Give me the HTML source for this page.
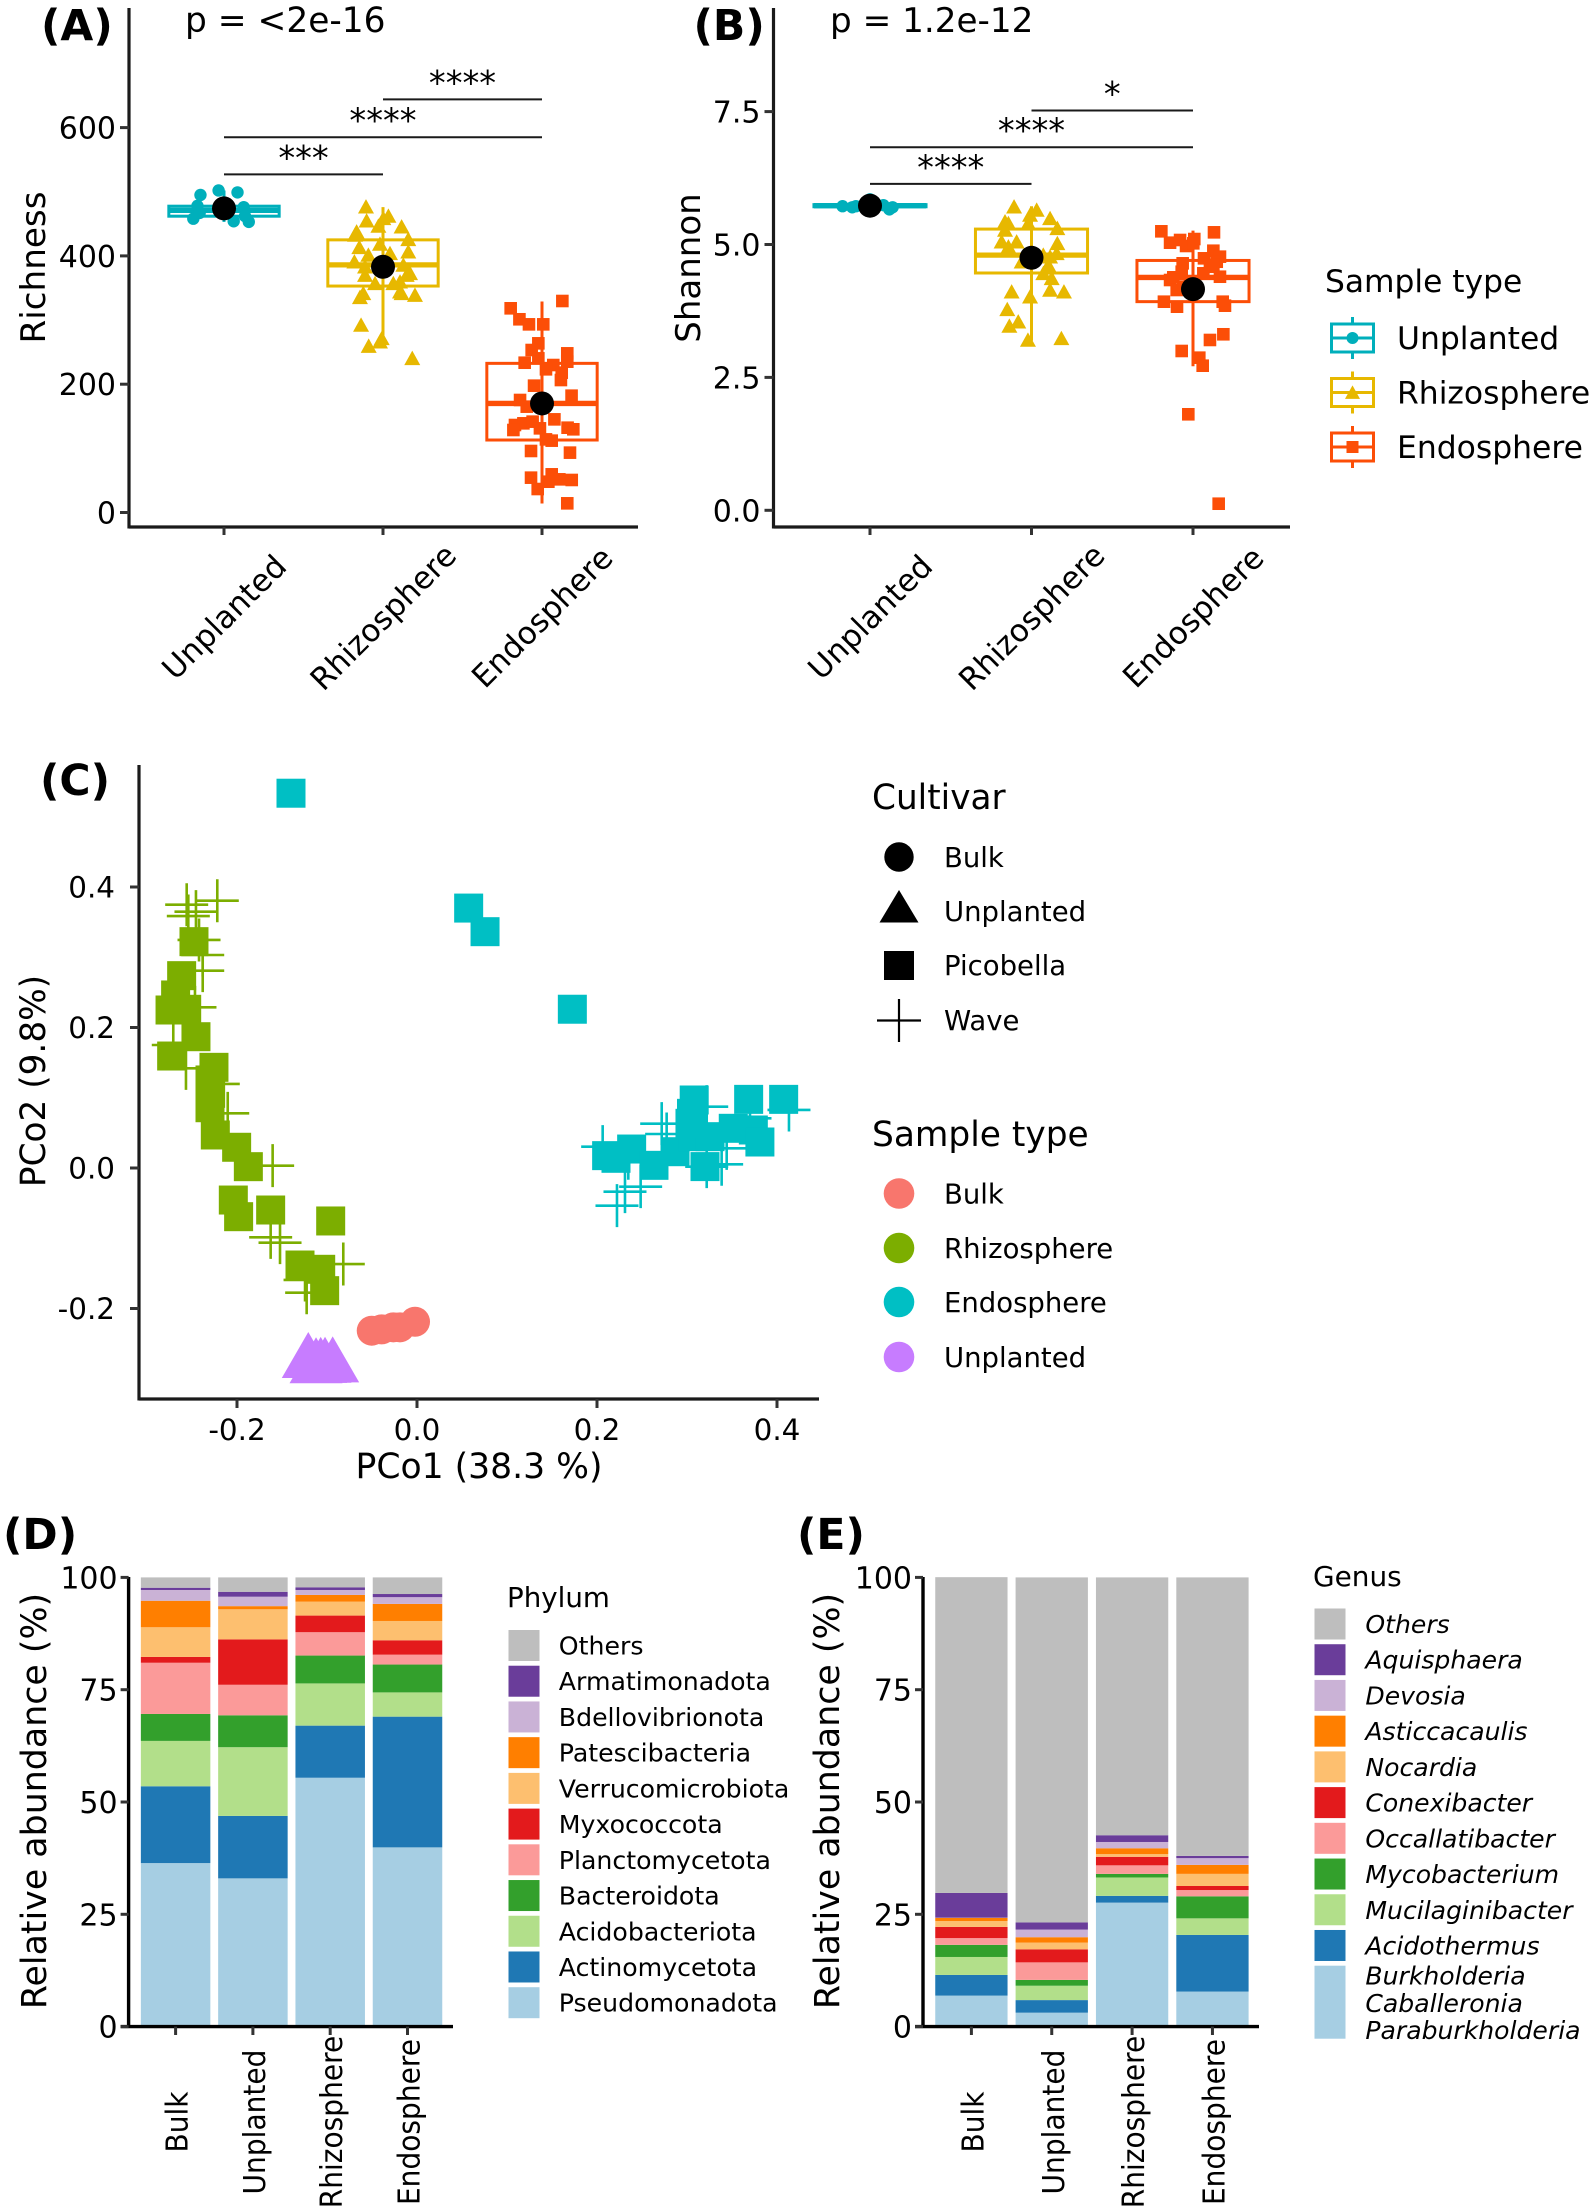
<!DOCTYPE html>
<html lang="en">
<head>
<meta charset="utf-8">
<title>Microbiome diversity figure</title>
<style>
html,body{margin:0;padding:0;background:#fff;}
svg{display:block;font-family:"DejaVu Sans","Liberation Sans",sans-serif;}
text{fill:#000;}
</style>
</head>
<body>
<svg id="figure" xmlns="http://www.w3.org/2000/svg" width="1595" height="2212" viewBox="0 0 1595 2212">
  <rect x="0" y="0" width="1595" height="2212" fill="#fff"/>

  <g id="panelA">
    <text x="41" y="40" font-size="42.5" font-weight="bold">(A)</text>
    <text x="185" y="32" font-size="34.4">p = &lt;2e-16</text>
    <text transform="translate(45,267.5) rotate(-90)" text-anchor="middle" font-size="34.2">Richness</text>
  </g>

  <g id="panelB">
    <text x="693.5" y="40" font-size="42.5" font-weight="bold">(B)</text>
    <text x="830" y="32" font-size="34.2">p = 1.2e-12</text>
    <text transform="translate(700,268) rotate(-90)" text-anchor="middle" font-size="34">Shannon</text>
  </g>

  <g id="boxLegend">
    <text x="1325" y="292" font-size="31.3">Sample type</text>
  </g>

  <g id="panelC">
    <text x="40" y="795" font-size="42.5" font-weight="bold">(C)</text>
    <text transform="translate(45,1081) rotate(-90)" text-anchor="middle" font-size="34.3">PCo2 (9.8%)</text>
    <text x="479" y="1478" text-anchor="middle" font-size="34.6">PCo1 (38.3 %)</text>
  </g>

  <g id="pcoaLegend">
    <text x="872" y="809" font-size="34.3">Cultivar</text>
    <circle cx="899" cy="857" r="14.7" fill="#000"/>
    <text x="944" y="867" font-size="27.5">Bulk</text>
    <polygon points="899,890 918.5,922.5 879.5,922.5" fill="#000"/>
    <text x="944" y="921" font-size="27.5">Unplanted</text>
    <rect x="884" y="951" width="30" height="29" fill="#000"/>
    <text x="944" y="975" font-size="27.5">Picobella</text>
    <path d="M877 1020.5H921M899 999V1042" stroke="#000" stroke-width="2.2" fill="none"/>
    <text x="944" y="1030" font-size="27.5">Wave</text>

    <text x="872" y="1146" font-size="34.4">Sample type</text>
    <circle cx="899" cy="1193.5" r="15.3" fill="#F8766D"/>
    <text x="944" y="1203.5" font-size="27.5">Bulk</text>
    <circle cx="899" cy="1248" r="15.3" fill="#7CAE00"/>
    <text x="944" y="1258" font-size="27.5">Rhizosphere</text>
    <circle cx="899" cy="1302" r="15.3" fill="#00BFC4"/>
    <text x="944" y="1312" font-size="27.5">Endosphere</text>
    <circle cx="899" cy="1357" r="15.3" fill="#C77CFF"/>
    <text x="944" y="1367" font-size="27.5">Unplanted</text>
  </g>

  <g id="panelD">
    <text x="3" y="1549" font-size="42.5" font-weight="bold">(D)</text>
    <text transform="translate(46,1801) rotate(-90)" text-anchor="middle" font-size="34.8">Relative abundance (%)</text>
    <text x="507" y="1607" font-size="27.7">Phylum</text>
  </g>

  <g id="panelE">
    <text x="797" y="1549" font-size="42.5" font-weight="bold">(E)</text>
    <text transform="translate(839,1801) rotate(-90)" text-anchor="middle" font-size="34.8">Relative abundance (%)</text>
    <text x="1313" y="1586" font-size="27.9">Genus</text>
  </g>
</svg>

<script>
/* ---------- Box plot categories ---------- */
const boxCategories = ['Unplanted', 'Rhizosphere', 'Endosphere'];

/* ---------- Panel A: richness ---------- */
const richnessTicks = [0, 200, 400, 600];
const richnessQ1 = [461.9, 353, 113];
const richnessMedian = [471, 386, 170];
const richnessQ3 = [477.5, 425, 232.5];
const richnessLow = [453, 260, 14];
const richnessHigh = [502, 476, 329];
const richnessMean = [474, 383, 170];
const richnessBracketFrom = [0, 0, 1];
const richnessBracketTo = [1, 2, 2];
const richnessBracketLevel = [527, 585, 644];
const richnessBracketStars = ['***', '****', '****'];
const richnessUnplantedJitter = [-.148, -.034, .085, -.167, .124, -.193, -.153, .061, .156, .132];
const richnessUnplantedValues = [495, 502, 499, 478, 476, 458, 467, 454, 453, 462];
const richnessRhizoJitter = [-.107, -.103, .002, .034, -.029, .117, -.166, -.176, .159, -.019, -.149, .159, -.092, .044, -.18, -.113, -.113, .128, .149, .107, -.05, .065, .107, -.124, -.145, .201, -.138, -.008, -.019, -.09, .184, .117, .17];
const richnessRhizoValues = [476.7, 454.9, 458.6, 462.2, 446.6, 445.5, 437.7, 432.6, 425.9, 418.6, 413.4, 406.5, 401.4, 404, 391, 383.2, 370.2, 385.8, 370.2, 359.8, 357.3, 357.3, 344.2, 341.7, 335.5, 339, 292.3, 271.5, 266.3, 259.5, 240.4, 341.7, 372.9];
const richnessEndoJitter = [-.197, .128, -.142, -.082, .008, -.023, -.065, .159, .159, -.109, -.023, .071, .025, .124, .119, -.05, .186, -.138, -.096, -.17, -.117, -.059, -.013, .078, .161, .197, .061, .025, -.069, .176, -.069, .061, .109, .187, .04, -.027, .159, -.18];
const richnessEndoValues = [318.3, 329.7, 301.2, 293.3, 293.3, 263.7, 253.3, 248.1, 235.1, 233.5, 240.3, 229.9, 223.2, 218, 206.5, 197.7, 182.1, 175.4, 165, 136.4, 139, 141.6, 131.2, 145.2, 132.2, 129.7, 112, 114, 95.9, 93.3, 54.3, 59.5, 51.7, 50.7, 48, 36.6, 14.3, 128.6];

/* ---------- Panel B: Shannon ---------- */
const shannonTicks = [0, 2.5, 5, 7.5];
const shannonTickLabels = ['0.0', '2.5', '5.0', '7.5'];
const shannonQ1 = [5.71, 4.464, 3.925];
const shannonMedian = [5.73, 4.80, 4.38];
const shannonQ3 = [5.75, 5.29, 4.70];
const shannonLow = [5.62, 3.19, 2.71];
const shannonHigh = [5.85, 5.72, 5.26];
const shannonMean = [5.73, 4.75, 4.16];
const shannonBracketFrom = [0, 0, 1];
const shannonBracketTo = [1, 2, 2];
const shannonBracketLevel = [6.14, 6.83, 7.52];
const shannonBracketStars = ['****', '****', '*'];
const shannonUnplantedJitter = [-.17, -.11, .083, .14, 0, -.087, .12];
const shannonUnplantedValues = [5.72, 5.7, 5.74, 5.7, 5.85, 5.72, 5.66];
const shannonRhizoJitter = [-.108, -.164, -.143, -.009, .032, -.02, .115, .16, -.164, -.185, -.092, -.143, .16, .156, -.061, .104, .073, .125, -.123, -.009, .115, .201, -.15, -.082, -.137, -.022, .185, .115, .073];
const shannonRhizoValues = [5.711, 5.43, 5.399, 5.555, 5.649, 5.399, 5.493, 5.305, 5.273, 5.053, 5.053, 4.959, 5.022, 4.834, 4.676, 4.614, 4.458, 4.364, 4.112, 4.018, 4.144, 4.112, 3.781, 3.548, 3.467, 3.204, 3.235, 4.771, 4.802];
const shannonEndoJitter = [-.196, .13, -.142, -.08, -.043, .008, .002, .126, .068, .167, -.064, .167, -.07, -.142, .105, -.101, -.019, -.18, -.099, .184, .198, .188, .105, -.07, .039, .06, -.029, .159, .064, .147, -.122, -.06, .126];
const shannonEndoValues = [5.248, 5.229, 5.034, 5.085, 4.972, 5.103, 5.022, 4.883, 4.74, 4.771, 4.646, 4.394, 4.488, 4.332, 4.582, 4.144, 4.27, 3.924, 3.83, 3.924, 3.849, 3.311, 3.204, 2.997, 2.871, 2.72, 1.806, .124, 4.458, 4.676, 4.383, 4.206, 4.614];

/* ---------- Panel C: PCoA ---------- */
const pco1Ticks = [-0.2, 0, 0.2, 0.4];
const pco1TickLabels = ['-0.2', '0.0', '0.2', '0.4'];
const pco2Ticks = [-0.2, 0, 0.2, 0.4];
const pco2TickLabels = ['-0.2', '0.0', '0.2', '0.4'];
const endoWavePco1 = [.2063, .2719, .2222, .2311, .2485, .3219, .4133, .2348, .3385, .3441, .2774, .3219, .37];
const endoWavePco2 = [.0304, .0631, -.0536, -.0337, -.0266, .0873, .0826, .0138, .0053, .028, .0484, .0019, .0707];
const endoPicobellaPco1 = [-.14, .0574, .0756, .1726, .308, .305, .3685, .4074, .2385, .2107, .2211, .2633, .2867, .307, .3256, .3514, .3737, .381, .32, .3033];
const endoPicobellaPco2 = [.5335, .37, .3364, .226, .0968, .0778, .0977, .0977, .027, .0176, .0138, .0038, .0232, .0446, .0446, .0565, .0541, .037, .002, .0636];
const rhizoWavePco1 = [-.2219, -.2559, -.2456, -.2541, -.2422, -.2381, -.2381, -.2467, -.2708, -.2567, -.2208, -.2103, -.1604, -.1626, -.1522, -.0819, -.1226, -.1244];
const rhizoWavePco2 = [.3805, .3748, .3649, .3587, .3246, .3032, .2809, .2287, .1751, .1419, .1196, .0778, .0033, -.0987, -.1063, -.1367, -.1775, -.1594];
const rhizoPicobellaPco1 = [-.2478, -.2615, -.2682, -.2744, -.2559, -.2456, -.2726, -.2256, -.23, -.2293, -.23, -.2241, -.2004, -.1874, -.2041, -.1982, -.1626, -.0959, -.13, -.107, -.1026];
const rhizoPicobellaPco2 = [.3222, .2738, .2463, .2249, .2259, .1869, .1594, .1433, .1253, .1063, .0858, .047, .0295, .0019, -.0456, -.0693, -.0598, -.0754, -.1381, -.1442, -.1746];
const bulkPco1 = [-.0503, -.0393, -.0263, -.0189, -.0022];
const bulkPco2 = [-.2316, -.2297, -.2268, -.2268, -.2188];
const unplantedPco1 = [-.1208, -.1122, -.107, -.1022, -.0937];
const unplantedPco2 = [-.2776, -.2851, -.2845, -.2843, -.2838];

/* ---------- Panels D and E: stacked bars ---------- */
const stackCategories = ['Bulk', 'Unplanted', 'Rhizosphere', 'Endosphere'];
const stackTicks = [0, 25, 50, 75, 100];
const phylumNames = ['Pseudomonadota', 'Actinomycetota', 'Acidobacteriota', 'Bacteroidota', 'Planctomycetota', 'Myxococcota', 'Verrucomicrobiota', 'Patescibacteria', 'Bdellovibrionota', 'Armatimonadota', 'Others'];
const phylumBulk = [36.4, 17.1, 10.1, 6, 11.4, 1.3, 6.6, 5.9, 2.4, .5, 2.3];
const phylumUnplanted = [33, 13.9, 15.3, 7.1, 6.8, 10.1, 6.7, .7, 2.1, 1.1, 3.2];
const phylumRhizosphere = [55.4, 11.6, 9.4, 6.2, 5.2, 3.7, 3.1, 1.5, 1.1, .6, 2.2];
const phylumEndosphere = [39.9, 29.1, 5.4, 6.2, 2.2, 3.2, 4.3, 3.8, 1.5, .7, 3.7];
const genusNames = ['Burkholderia Caballeronia Paraburkholderia', 'Acidothermus', 'Mucilaginibacter', 'Mycobacterium', 'Occallatibacter', 'Conexibacter', 'Nocardia', 'Asticcacaulis', 'Devosia', 'Aquisphaera', 'Others'];
const genusBulk = [6.9, 4.6, 4, 2.7, 1.5, 2.5, 1.3, .7, .05, 5.5, 70.3];
const genusUnplanted = [3.1, 2.8, 3.2, 1.3, 3.9, 2.9, 1.5, 1.2, 1.7, 1.6, 76.8];
const genusRhizosphere = [27.6, 1.5, 4.1, .8, 1.9, 1.9, .6, 1.3, 1.4, 1.5, 57.4];
const genusEndosphere = [7.8, 12.6, 3.7, 4.9, 1.4, .9, 2.7, 2, 1.5, .5, 62];

const NS = 'http://www.w3.org/2000/svg';
const INK = '#1a1a1a';
const boxColors = ['#00AFBB', '#E7B800', '#FC4E07'];
const stackColors = ['#A6CEE3', '#1F78B4', '#B2DF8A', '#33A02C', '#FB9A99', '#E31A1C', '#FDBF6F', '#FF7F00', '#CAB2D6', '#6A3D9A', '#BEBEBE'];

function mk(tag, attrs, parent, name) {
  const el = document.createElementNS(NS, tag);
  for (const k in attrs) el.setAttribute(k, attrs[k]);
  
  
  parent.appendChild(el);
  return el;
}
function label(str, attrs, parent, name) {
  const el = mk('text', attrs, parent, name);
  el.textContent = str;
  return el;
}
function line(x1, y1, x2, y2, stroke, w, parent, name) {
  return mk('line', {x1: x1, y1: y1, x2: x2, y2: y2, stroke: stroke, 'stroke-width': w}, parent, name);
}
function slug(s) { return String(s).toLowerCase().replace(/[^a-z0-9]+/g, '-'); }

function marker(shape, cx, cy, s, color, parent, name) {
  if (shape === 'circle') return mk('circle', {cx: cx, cy: cy, r: s, fill: color}, parent, name);
  if (shape === 'square') return mk('rect', {x: cx - s, y: cy - s, width: 2 * s, height: 2 * s, fill: color}, parent, name);
  if (shape === 'triangle') {
    const pts = (cx) + ',' + (cy - s * .95) + ' ' + (cx + s) + ',' + (cy + s * .85) + ' ' + (cx - s) + ',' + (cy + s * .85);
    return mk('polygon', {points: pts, fill: color}, parent, name);
  }
  return mk('path', {d: 'M' + (cx - s) + ' ' + cy + 'H' + (cx + s) + 'M' + cx + ' ' + (cy - s) + 'V' + (cy + s), stroke: color, 'stroke-width': 2.6, fill: 'none'}, parent, name);
}

/* ---------- Box panels ---------- */
function boxPanel(cfg) {
  const g = document.getElementById(cfg.id);
  const xOf = i => cfg.x0 + i * cfg.step;
  const y = cfg.y;
  cfg.q1.forEach((_, i) => {
    const c = boxColors[i];
    const cx = xOf(i);
    const hw = 0.347 * cfg.step;
    const nm = slug(boxCategories[i]);
    line(cx, y(cfg.low[i]), cx, y(cfg.high[i]), c, 3, g, cfg.prefix + '-whisker-' + nm);
    mk('rect', {x: cx - hw, y: y(cfg.q3[i]), width: 2 * hw, height: y(cfg.q1[i]) - y(cfg.q3[i]), fill: 'none', stroke: c, 'stroke-width': 3}, g, cfg.prefix + '-box-' + nm);
    line(cx - hw, y(cfg.median[i]), cx + hw, y(cfg.median[i]), c, 5.3, g, cfg.prefix + '-median-' + nm);
  });
  const shapes = ['circle', 'triangle', 'square'];
  const sizes = [6.2, 8, 6.3];
  cfg.jitter.forEach((arr, i) => {
    arr.forEach((j, k) => {
      marker(shapes[i], xOf(i) + j * cfg.step, y(cfg.values[i][k]), sizes[i], boxColors[i], g, cfg.prefix + '-point-' + slug(boxCategories[i]));
    });
  });
  cfg.mean.forEach((m, i) => {
    mk('circle', {cx: xOf(i), cy: y(m), r: 12, fill: '#000'}, g, cfg.prefix + '-mean-' + slug(boxCategories[i]));
  });
  cfg.from.forEach((f, i) => {
    const by = y(cfg.level[i]);
    line(xOf(f), by, xOf(cfg.to[i]), by, '#1a1a1a', 2, g, cfg.prefix + '-bracket');
    label(cfg.stars[i], {x: (xOf(f) + xOf(cfg.to[i])) / 2, y: by - 5, 'text-anchor': 'middle', 'font-size': 33.6}, g, cfg.prefix + '-significance');
  });
  /* axes */
  line(cfg.axisX, 8, cfg.axisX, 528.5, INK, 3.2, g, cfg.prefix + '-y-axis');
  line(cfg.axisX, 527, cfg.axisEnd, 527, INK, 3.2, g, cfg.prefix + '-x-axis');
  cfg.ticks.forEach((t, i) => {
    line(cfg.axisX - 9, y(t), cfg.axisX, y(t), '#333', 3, g, cfg.prefix + '-y-tick');
    label(cfg.tickLabels[i], {x: cfg.axisX - 13, y: y(t) + 11, 'text-anchor': 'end', 'font-size': 30}, g, cfg.prefix + '-y-tick-label');
  });
  boxCategories.forEach((c, i) => {
    line(xOf(i), 527, xOf(i), 535, '#333', 3, g, cfg.prefix + '-x-tick');
    label(c, {transform: 'translate(' + xOf(i) + ',617) rotate(-45)', y: 11, 'text-anchor': 'middle', 'font-size': 31}, g, cfg.prefix + '-x-tick-label');
  });
}
boxPanel({
  id: 'panelA', prefix: 'richness', x0: 224, step: 159, axisX: 129, axisEnd: 638,
  y: v => 512.5 - v * 0.6415,
  q1: richnessQ1, median: richnessMedian, q3: richnessQ3, low: richnessLow, high: richnessHigh, mean: richnessMean,
  jitter: [richnessUnplantedJitter, richnessRhizoJitter, richnessEndoJitter],
  values: [richnessUnplantedValues, richnessRhizoValues, richnessEndoValues],
  from: richnessBracketFrom, to: richnessBracketTo, level: richnessBracketLevel, stars: richnessBracketStars,
  ticks: richnessTicks, tickLabels: richnessTicks
});
boxPanel({
  id: 'panelB', prefix: 'shannon', x0: 870, step: 161.5, axisX: 773.5, axisEnd: 1290,
  y: v => 510.3 - v * 53.16,
  q1: shannonQ1, median: shannonMedian, q3: shannonQ3, low: shannonLow, high: shannonHigh, mean: shannonMean,
  jitter: [shannonUnplantedJitter, shannonRhizoJitter, shannonEndoJitter],
  values: [shannonUnplantedValues, shannonRhizoValues, shannonEndoValues],
  from: shannonBracketFrom, to: shannonBracketTo, level: shannonBracketLevel, stars: shannonBracketStars,
  ticks: shannonTicks, tickLabels: shannonTickLabels
});

/* box legend */
(function () {
  const g = document.getElementById('boxLegend');
  const shapes = ['circle', 'triangle', 'square'];
  const sizes = [6, 7.5, 6];
  boxCategories.forEach((c, i) => {
    const cy = 338 + i * 54.5;
    const nm = slug(c);
    line(1352.5, cy - 21, 1352.5, cy + 21, boxColors[i], 3, g, 'box-legend-whisker-' + nm);
    mk('rect', {x: 1331.5, y: cy - 14, width: 42, height: 28, fill: '#fff', stroke: boxColors[i], 'stroke-width': 3}, g, 'box-legend-key-' + nm);
    line(1331.5, cy, 1373.5, cy, boxColors[i], 3, g, 'box-legend-median-' + nm);
    marker(shapes[i], 1352.5, cy, sizes[i], boxColors[i], g, 'box-legend-marker-' + nm);
    label(c, {x: 1397, y: cy + 11, 'font-size': 31.4}, g, 'box-legend-label-' + nm);
  });
})();

/* ---------- PCoA ---------- */
(function () {
  const g = document.getElementById('panelC');
  const px = v => 417 + v * 900;
  const py = v => 1168 - v * 702.5;
  const GREEN = '#7CAE00', TEAL = '#00BFC4', RED = '#F8766D', VIOLET = '#C77CFF';
  const plus = (xs, ys, color, nm) => xs.forEach((v, i) => {
    marker('plus', px(v), py(ys[i]), 21.5, color, g, nm);
  });
  const squares = (xs, ys, color, nm) => xs.forEach((v, i) => {
    marker('square', px(v), py(ys[i]), 14.5, color, g, nm);
  });
  plus(rhizoWavePco1, rhizoWavePco2, GREEN, 'rhizosphere-wave-point');
  plus(endoWavePco1, endoWavePco2, TEAL, 'endosphere-wave-point');
  squares(rhizoPicobellaPco1, rhizoPicobellaPco2, GREEN, 'rhizosphere-picobella-point');
  squares(endoPicobellaPco1, endoPicobellaPco2, TEAL, 'endosphere-picobella-point');
  bulkPco1.forEach((v, i) => {
    mk('circle', {cx: px(v), cy: py(bulkPco2[i]), r: 15, fill: RED}, g, 'bulk-point');
  });
  unplantedPco1.forEach((v, i) => {
    const cx = px(v), cy = py(unplantedPco2[i]);
    mk('polygon', {points: cx + ',' + (cy - 31) + ' ' + (cx + 26.5) + ',' + (cy + 15) + ' ' + (cx - 26.5) + ',' + (cy + 15), fill: VIOLET}, g, 'unplanted-point');
  });
  line(139, 765, 139, 1400.5, INK, 3.2, g, 'pcoa-y-axis');
  line(139, 1399, 819, 1399, INK, 3.2, g, 'pcoa-x-axis');
  pco2Ticks.forEach((t, i) => {
    line(130, py(t), 139, py(t), '#333', 3, g, 'pcoa-y-tick');
    label(pco2TickLabels[i], {x: 115, y: py(t) + 10.5, 'text-anchor': 'end', 'font-size': 29.4}, g, 'pcoa-y-tick-label');
  });
  pco1Ticks.forEach((t, i) => {
    line(px(t), 1399, px(t), 1408, '#333', 3, g, 'pcoa-x-tick');
    label(pco1TickLabels[i], {x: px(t), y: 1440, 'text-anchor': 'middle', 'font-size': 29.4}, g, 'pcoa-x-tick-label');
  });
})();

/* ---------- Stacked bars ---------- */
function stackPanel(cfg) {
  const g = document.getElementById(cfg.id);
  const y = v => 2026.6 - v * 4.492;
  const xOf = i => cfg.x0 + i * cfg.step;
  cfg.samples.forEach((vals, i) => {
    let acc = 0;
    vals.forEach((v, k) => {
      mk('rect', {x: xOf(i) - cfg.barW / 2, y: y(acc + v), width: cfg.barW, height: y(acc) - y(acc + v), fill: stackColors[k]}, g, cfg.prefix + '-bar-' + slug(stackCategories[i]) + '-' + slug(cfg.names[k]));
      acc += v;
    });
  });
  line(cfg.axisX, 1577, cfg.axisX, 2028, '#000', 3.4, g, cfg.prefix + '-y-axis');
  line(cfg.axisX - 8, 2026.6, cfg.axisEnd, 2026.6, '#000', 3.4, g, cfg.prefix + '-x-axis');
  stackTicks.forEach(t => {
    line(cfg.axisX - 8, y(t), cfg.axisX, y(t), '#333', 3, g, cfg.prefix + '-y-tick');
    label(t, {x: cfg.axisX - 11, y: y(t) + 11, 'text-anchor': 'end', 'font-size': 30}, g, cfg.prefix + '-y-tick-label');
  });
  stackCategories.forEach((c, i) => {
    line(xOf(i), 2026.6, xOf(i), 2035, '#333', 3, g, cfg.prefix + '-x-tick');
    label(c, {transform: 'translate(' + (xOf(i) + 12) + ',2122) rotate(-90) scale(.92,1)', 'text-anchor': 'middle', 'font-size': 30.5}, g, cfg.prefix + '-x-tick-label');
  });
  /* legend, drawn top to bottom from the last series */
  for (let k = cfg.names.length - 1; k >= 0; k--) {
    const row = cfg.names.length - 1 - k;
    const top = cfg.legendTop + row * 35.72;
    const nm = slug(cfg.names[k]);
    const isMulti = cfg.names[k].indexOf(' ') > 0;
    const h = isMulti ? 73 : 31;
    mk('rect', {x: cfg.keyX, y: top, width: 31, height: h, fill: stackColors[k]}, g, cfg.prefix + '-legend-key-' + nm);
    if (isMulti) {
      cfg.names[k].split(' ').forEach((part, p) => {
        label(part, {x: cfg.labelX, y: top + 19 + p * 27.2, 'font-size': cfg.legendFont, 'font-style': 'italic'}, g, cfg.prefix + '-legend-label-' + slug(part));
      });
    } else {
      const attrs = {x: cfg.labelX, y: top + 24.5, 'font-size': cfg.legendFont};
      if (cfg.italic) attrs['font-style'] = 'italic';
      label(cfg.names[k], attrs, g, cfg.prefix + '-legend-label-' + nm);
    }
  }
}
stackPanel({
  id: 'panelD', prefix: 'phylum', x0: 175.6, step: 77.3, barW: 69.5, axisX: 128.6, axisEnd: 453,
  samples: [phylumBulk, phylumUnplanted, phylumRhizosphere, phylumEndosphere],
  names: phylumNames, keyX: 508.5, labelX: 558.8, legendTop: 1630, legendFont: 25.2, italic: false
});
stackPanel({
  id: 'panelE', prefix: 'genus', x0: 971.4, step: 80.35, barW: 72.3, axisX: 923, axisEnd: 1259,
  samples: [genusBulk, genusUnplanted, genusRhizosphere, genusEndosphere],
  names: genusNames, keyX: 1314.5, labelX: 1365.4, legendTop: 1608.5, legendFont: 25.1, italic: true
});
</script>
</body>
</html>
